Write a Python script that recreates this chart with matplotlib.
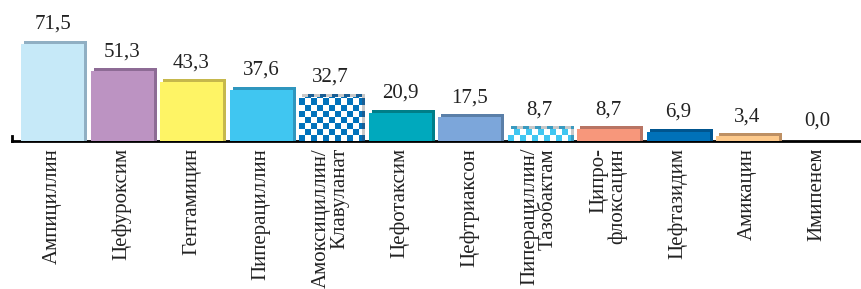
import numpy as np
import matplotlib.pyplot as plt
from matplotlib.patches import Rectangle
from matplotlib.colors import ListedColormap

plt.rcParams['font.family'] = ['Liberation Serif', 'DejaVu Serif']

# Data
drugs = ["Ампициллин", "Цефуроксим", "Гентамицин", "Пиперациллин",
         "Амоксициллин/\nКлавуланат", "Цефотаксим", "Цефтриаксон",
         "Пиперациллин/\nТазобактам", "Ципро-\nфлоксацин", "Цефтазидим",
         "Амикацин", "Имипенем"]
values = [71.5, 51.3, 43.3, 37.6, 32.7, 20.9, 17.5, 8.7, 8.7, 6.9, 3.4, 0.0]

front_colors = ["#C6E9F8", "#BC93C2", "#FEF465", "#40C6F1", "#0072BC", "#00A9BD",
                "#7CA6DA", "#40C6F1", "#F7977B", "#0071B9", "#FDC98B", "#000000"]
back_colors = ["#90AFC3", "#8D6B95", "#C6B84C", "#2F96BE", "#1B5E93", "#007E88",
               "#5A7FA8", "#3A9ABF", "#B87463", "#00558F", "#BE9063", "#000000"]
checkered = [4, 7]

W, H = 861, 289
fig = plt.figure(figsize=(W / 100, H / 100), dpi=100)
base_px = 141
px_per_unit = 1.357
left_px, right_px = 12, 861
c0, step = 52.5, 69.5
ax = fig.add_axes([left_px / W, (H - base_px) / H, (right_px - left_px) / W, base_px / H])
ax.set_xlim((left_px - c0) / step, (right_px - c0) / step)
ax.set_ylim(0, base_px / px_per_unit)

bw = 63 / step
dx = 3 / step
dy = 3 / px_per_unit
sq_x = 6 / step
sq_y = 6 / px_per_unit


def checker(x0, y0, w, h, c1, c2, z):
    # checkerboard fill clipped to the bar rectangle
    nx = int(np.ceil(w / sq_x)) + 1
    ny = int(np.ceil(h / sq_y)) + 1
    grid = (np.add.outer(np.arange(ny), np.arange(nx)) % 2).astype(float)
    im = ax.imshow(grid, cmap=ListedColormap([c1, c2]), interpolation='nearest',
                   extent=(x0, x0 + nx * sq_x, y0, y0 + ny * sq_y),
                   origin='lower', aspect='auto', zorder=z)
    im.set_clip_path(Rectangle((x0, y0), w, h, transform=ax.transData))


for i, v in enumerate(values):
    if v > 0:
        xl = i - bw / 2
        if i in checkered:
            checker(xl + dx, 0, bw, v + dy, back_colors[i], "#C8C8C8", 2)
            checker(xl, 0, bw, v, front_colors[i], "white", 3)
        else:
            ax.bar(i + dx, v + dy, width=bw, color=back_colors[i], zorder=2)
            ax.bar(i, v, width=bw, color=front_colors[i], zorder=3)
    ax.annotate(f"{v:.1f}".replace(".", ","), (i, v), xytext=(0, 15 * 0.72),
                textcoords='offset points', ha='center', va='baseline',
                fontsize=15, color="#222222")

ax.set_xticks(range(len(drugs)))
ax.set_xticklabels(drugs, rotation=90, fontsize=15, multialignment='right',
                   color="#222222", linespacing=0.95)
ax.tick_params(axis='x', length=0, pad=5)
ax.set_yticks([])
for s in ['top', 'right']:
    ax.spines[s].set_visible(False)
ax.spines['bottom'].set_linewidth(2)
ax.spines['bottom'].set_zorder(1)
ax.spines['left'].set_linewidth(2)
ax.spines['left'].set_bounds(0, 4)
ax.patch.set_alpha(0)

fig.savefig("out.png", dpi=100)
